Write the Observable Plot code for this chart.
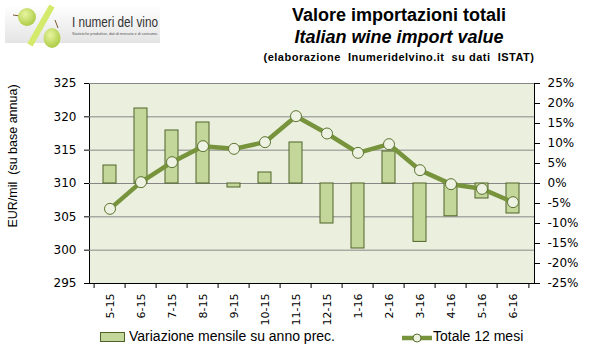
<!DOCTYPE html>
<html>
<head>
<meta charset="utf-8">
<script src="https://cdn.jsdelivr.net/npm/d3@7"></script>
<script src="https://cdn.jsdelivr.net/npm/@observablehq/plot@0.6"></script>
<style>
  html, body { margin: 0; padding: 0; background: #fff; }
  #root { position: relative; width: 599px; height: 356px; overflow: hidden; font-family: "Liberation Sans", Arial, sans-serif; }
  #root > svg.plot { position: absolute; left: 0; top: 0; }
  .abs { position: absolute; white-space: pre; color: #000; }
  .title { left: 199px; width: 400px; text-align: center; font-family: "Liberation Sans Narrow", "Arial Narrow", "Liberation Sans", sans-serif; font-weight: bold; font-size: 18px; }
</style>
</head>
<body>
<div id="root">
  <svg class="abs" style="left:0;top:0" width="200" height="52" viewBox="0 0 200 52">
    <defs>
      <linearGradient id="lg" x1="0" y1="0" x2="0" y2="1">
        <stop offset="0" stop-color="#ffffff"/>
        <stop offset="1" stop-color="#e4e4e4"/>
      </linearGradient>
      <radialGradient id="gr" cx="0.4" cy="0.35" r="0.7">
        <stop offset="0" stop-color="#e8f5a0"/>
        <stop offset="1" stop-color="#a9c940"/>
      </radialGradient>
    </defs>
    <rect x="5" y="5" width="155" height="38" fill="url(#lg)"/>
    <line x1="52" y1="6" x2="30" y2="45" stroke="#d4ea6a" stroke-width="6"/>
    <line x1="13" y1="15" x2="20" y2="16" stroke="#7a5a30" stroke-width="1"/>
    <circle cx="27" cy="17" r="9" fill="url(#gr)"/>
    <line x1="55" y1="20" x2="58" y2="28" stroke="#7a5a30" stroke-width="1"/>
    <ellipse cx="52" cy="38" rx="8.5" ry="10" fill="url(#gr)"/>
    <text x="72" y="27" font-family="Liberation Sans, sans-serif" font-size="12" fill="#333" textLength="86" lengthAdjust="spacingAndGlyphs" transform="translate(72 27) scale(1 1.15) translate(-72 -27)">I numeri del vino</text>
    <text x="72" y="35" font-family="Liberation Sans, sans-serif" font-size="3.4" fill="#555" textLength="86" lengthAdjust="spacingAndGlyphs">Statistiche produttive, dati di mercato e di consumo.</text>
  </svg>
  <div class="abs title" style="top:5px;">Valore importazioni totali</div>
  <div class="abs title" style="top:27px;font-style:italic;">Italian wine import value</div>
  <div class="abs" style="left:199px;width:400px;top:51px;text-align:center;font-weight:bold;font-size:11px;letter-spacing:0.5px;">(elaborazione  Inumeridelvino.it  su dati  ISTAT)</div>
  <div class="abs" style="left:13px;top:156px;font-size:12.5px;transform:translate(-50%,-50%) rotate(-90deg);">EUR/mil  (su base annua)</div>
  <div class="abs" style="left:100px;top:332px;width:25px;height:10px;box-sizing:border-box;background:#c4d79b;border:1px solid #4f6228;"></div>
  <div class="abs" style="left:129px;top:328px;font-size:14px;">Variazione mensile su anno prec.</div>
  <svg class="abs" style="left:400px;top:330px" width="34" height="16">
    <line x1="2" y1="8" x2="32" y2="8" stroke="#77933c" stroke-width="4.5"/>
    <circle cx="17" cy="8" r="4" fill="#ebf1de" stroke="#5c7431" stroke-width="1"/>
  </svg>
  <div class="abs" style="left:433px;top:328px;font-size:14px;">Totale 12 mesi</div>
</div>
<script>
const categories = ["5-15","6-15","7-15","8-15","9-15","10-15","11-15","12-15","1-16","2-16","3-16","4-16","5-16","6-16"];
const monthlyChangePct = [4.5, 18.75, 13.25, 15.25, -1.0, 2.75, 10.25, -10.0, -16.25, 8.0, -14.6, -8.2, -3.75, -7.5];
const total12Months = [306.2, 310.2, 313.2, 315.6, 315.2, 316.2, 320.1, 317.5, 314.6, 315.9, 312.0, 309.9, 309.2, 307.2];
const leftTicks = [295, 300, 305, 310, 315, 320, 325];
const rightTicksPct = [-25, -20, -15, -10, -5, 0, 5, 10, 15, 20, 25];

// map % (right axis) onto the left axis scale: -25%..25% <-> 295..325
const pctToLeft = p => 310 + p * 0.6;
const leftToPct = v => Math.round((v - 310) / 0.6);

const rows = categories.map((c, i) => ({cat: c, pct: monthlyChangePct[i], total: total12Months[i]}));

const W = 599, H = 356, mL = 89, mR = 65, mT = 83, mB = 73;
const step = (W - mL - mR) / categories.length;
const tickLen = 5 / ((H - mT - mB) / 30);

const chart = Plot.plot({
  width: W, height: H,
  marginTop: mT, marginBottom: mB, marginLeft: mL, marginRight: mR,
  x: {type: "band", domain: categories, paddingInner: 0.58, paddingOuter: 0.29},
  y: {domain: [295, 325]},
  style: {fontFamily: "DejaVu Sans, Verdana, sans-serif", fontSize: "12px", color: "#000", background: "transparent", overflow: "visible"},
  marks: [
    Plot.frame({fill: "#ebf0de", stroke: "#000"}),
    Plot.gridY(leftTicks.filter(v => v > 295), {stroke: "#868686", strokeOpacity: 1, strokeWidth: 1}),
    Plot.barY(rows, {x: "cat", y1: 310, y2: d => pctToLeft(d.pct), fill: "#c4d79b", stroke: "#4f6228", strokeWidth: 1}),
    Plot.line(rows, {x: "cat", y: "total", stroke: "#77933c", strokeWidth: 4.5}),
    Plot.dot(rows, {x: "cat", y: "total", r: 5.5, fill: "#eef2e2", stroke: "#5c7431", strokeWidth: 1}),
    Plot.axisY({anchor: "left", ticks: leftTicks, tickSize: 5, tickPadding: 8, label: null}),
    Plot.axisY({anchor: "right", ticks: rightTicksPct.map(pctToLeft), tickFormat: v => leftToPct(v) + "%", tickSize: 5, tickPadding: 8, label: null}),
    Plot.axisX({tickRotate: -90, tickSize: 0, tickPadding: 10, fontSize: 11, label: null}),
    Plot.ruleX(categories, {x: d => d, dx: -step / 2, y1: 295, y2: 295 - tickLen, stroke: "#000"}),
    Plot.ruleX(categories.slice(-1), {x: d => d, dx: step / 2, y1: 295, y2: 295 - tickLen, stroke: "#000"})
  ]
});
chart.classList.add("plot");
document.getElementById("root").prepend(chart);
</script>
</body>
</html>
